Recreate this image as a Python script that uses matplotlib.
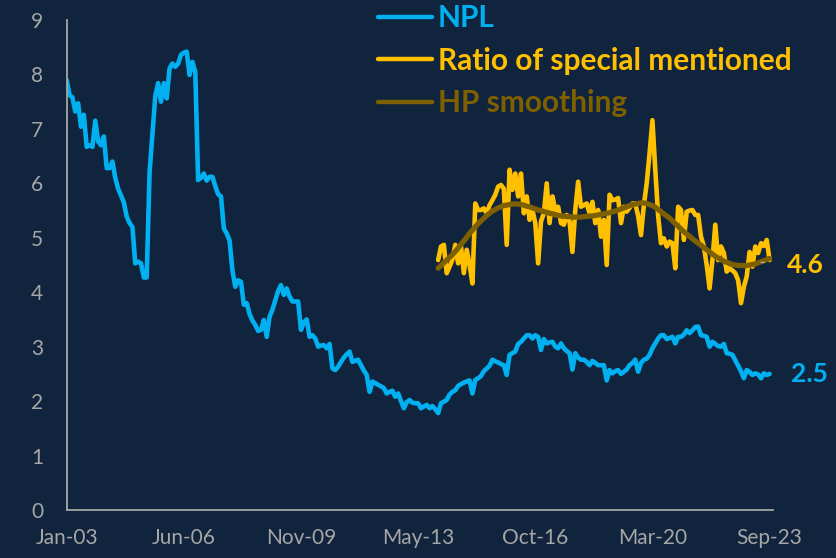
import matplotlib
matplotlib.use("Agg")
import matplotlib.pyplot as plt
import numpy as np

plt.rcParams['font.family'] = ['Lato', 'DejaVu Sans']

# ---- data (monthly, category index) ----
tick_labels = ["Jan-03", "Jun-06", "Nov-09", "May-13", "Oct-16", "Mar-20", "Sep-23"]
tick_index = [0, 41, 82, 123, 164, 205, 246]

npl = [
    7.90, 7.62, 7.58, 7.32, 7.47, 7.04, 7.26, 6.67, 6.70, 6.67,
    7.15, 6.77, 6.70, 6.86, 6.28, 6.28, 6.40, 6.10, 5.90, 5.78,
    5.65, 5.39, 5.27, 5.20, 4.53, 4.56, 4.53, 4.27, 4.27, 6.20,
    6.90, 7.60, 7.84, 7.50, 7.84, 7.56, 8.11, 8.20, 8.14, 8.20,
    8.36, 8.40, 8.42, 7.99, 8.23, 8.05, 6.06, 6.10, 6.18, 6.05,
    6.12, 6.12, 5.95, 5.80, 5.76, 5.17, 5.08, 4.95, 4.40, 4.10,
    4.22, 4.19, 3.77, 3.80, 3.60, 3.48, 3.40, 3.29, 3.31, 3.49,
    3.18, 3.55, 3.68, 3.85, 4.02, 4.13, 3.95, 4.07, 3.92, 3.83,
    3.83, 3.83, 3.31, 3.45, 3.50, 3.18, 3.21, 3.15, 3.00, 3.02,
    3.03, 2.97, 3.05, 2.60, 2.57, 2.63, 2.72, 2.80, 2.86, 2.91,
    2.72, 2.74, 2.76, 2.66, 2.56, 2.48, 2.17, 2.36, 2.33, 2.30,
    2.27, 2.24, 2.14, 2.17, 2.19, 2.08, 2.14, 2.00, 1.87, 1.98,
    2.02, 1.97, 1.96, 1.96, 1.87, 1.90, 1.93, 1.87, 1.91, 1.85,
    1.78, 1.96, 1.99, 2.02, 2.12, 2.17, 2.20, 2.28, 2.31, 2.34,
    2.36, 2.38, 2.14, 2.39, 2.42, 2.46, 2.55, 2.60, 2.65, 2.76,
    2.73, 2.71, 2.68, 2.66, 2.48, 2.85, 2.88, 2.91, 3.05, 3.09,
    3.15, 3.21, 3.21, 3.15, 3.21, 3.18, 2.94, 3.14, 3.06, 3.08,
    3.09, 3.00, 2.97, 3.06, 2.97, 2.92, 2.88, 2.58, 2.88, 2.80,
    2.76, 2.76, 2.72, 2.66, 2.74, 2.70, 2.66, 2.66, 2.66, 2.38,
    2.57, 2.51, 2.55, 2.57, 2.50, 2.54, 2.58, 2.66, 2.70, 2.76,
    2.54, 2.70, 2.76, 2.78, 2.85, 2.97, 3.06, 3.15, 3.21, 3.21,
    3.14, 3.16, 3.18, 3.06, 3.18, 3.18, 3.22, 3.30, 3.25, 3.30,
    3.36, 3.37, 3.21, 3.20, 3.18, 3.00, 3.09, 3.05, 3.01, 3.00,
    3.05, 2.88, 2.87, 2.85, 2.75, 2.65, 2.55, 2.42, 2.57, 2.54,
    2.48, 2.51, 2.49, 2.42, 2.51, 2.48, 2.50,
]

sm_start = 130  # first month index of the special-mention series
special_mentioned = [
    4.59, 4.84, 4.87, 4.35, 4.47, 4.60, 4.87, 4.53, 4.84, 4.35,
    4.78, 4.50, 4.16, 5.63, 5.51, 5.51, 5.54, 5.45, 5.60, 5.69,
    5.79, 5.94, 5.97, 5.90, 4.87, 6.25, 5.88, 6.18, 5.76, 6.18,
    5.45, 5.76, 5.33, 5.51, 5.27, 4.53, 5.30, 5.45, 6.00, 5.27,
    5.76, 5.51, 5.57, 5.27, 5.24, 5.42, 5.30, 4.74, 5.51, 6.03,
    5.57, 5.60, 5.63, 5.45, 5.66, 5.27, 5.51, 5.02, 5.33, 4.50,
    5.79, 5.69, 5.70, 5.73, 5.27, 5.57, 5.48, 5.55, 5.63, 5.63,
    5.40, 5.05, 5.60, 6.00, 6.55, 7.16, 6.25, 5.40, 4.90, 4.99,
    4.84, 4.93, 4.90, 4.44, 5.57, 5.51, 4.96, 5.48, 5.50, 5.51,
    5.42, 5.42, 5.02, 4.84, 4.50, 4.07, 4.59, 5.24, 4.59, 4.84,
    4.72, 4.38, 4.44, 4.40, 4.35, 4.22, 3.80, 4.10, 4.29, 4.74,
    4.47, 4.84, 4.72, 4.90, 4.85, 4.96, 4.59,
]

hp_smoothing = [
    4.44, 4.49, 4.54, 4.59, 4.64, 4.69, 4.75, 4.81, 4.88, 4.94,
    5.01, 5.08, 5.14, 5.20, 5.26, 5.31, 5.36, 5.41, 5.45, 5.49,
    5.52, 5.55, 5.57, 5.59, 5.60, 5.61, 5.62, 5.62, 5.62, 5.61,
    5.60, 5.58, 5.57, 5.55, 5.53, 5.51, 5.50, 5.48, 5.47, 5.45,
    5.44, 5.42, 5.41, 5.40, 5.40, 5.39, 5.39, 5.38, 5.38, 5.38,
    5.38, 5.39, 5.39, 5.40, 5.40, 5.41, 5.42, 5.43, 5.44, 5.45,
    5.46, 5.48, 5.49, 5.51, 5.53, 5.55, 5.57, 5.59, 5.61, 5.62,
    5.63, 5.64, 5.64, 5.63, 5.61, 5.59, 5.56, 5.52, 5.48, 5.44,
    5.40, 5.36, 5.31, 5.26, 5.21, 5.16, 5.11, 5.07, 5.03, 4.98,
    4.94, 4.90, 4.86, 4.82, 4.78, 4.74, 4.70, 4.66, 4.63, 4.60,
    4.57, 4.55, 4.53, 4.51, 4.50, 4.49, 4.49, 4.49, 4.49, 4.50,
    4.51, 4.52, 4.54, 4.56, 4.58, 4.60, 4.62,
]

series_names = ["NPL", "Ratio of special mentioned", "HP smoothing"]
end_labels = ["2.5", "4.6"]

# ---- style ----
BG = "#11243d"
C_NPL = "#00B0F0"
C_SM = "#FFC000"
C_HP = "#7F6000"
GRAY = "#A6A6A6"

W, H = 837, 558
fig = plt.figure(figsize=(W / 100, H / 100), dpi=100, facecolor=BG)
ax = fig.add_axes([66.7 / W, 1 - 510 / H, (773 - 66.7) / W, (510 - 20) / H], facecolor=BG)

x_npl = np.arange(len(npl))
x_sm = np.arange(sm_start, sm_start + len(special_mentioned))
x_hp = np.arange(sm_start, sm_start + len(hp_smoothing))

ax.plot(x_npl, npl, color=C_NPL, lw=3.3, solid_joinstyle="round", solid_capstyle="round", label=series_names[0])
ax.plot(x_sm, special_mentioned, color=C_SM, lw=3.3, solid_joinstyle="round", solid_capstyle="round", label=series_names[1])
ax.plot(x_hp, hp_smoothing, color=C_HP, lw=3.8, solid_capstyle="round", label=series_names[2])

ax.set_xlim(0, 247.2)
ax.set_ylim(0, 9)
ax.set_yticks(range(0, 10))
ax.set_xticks(tick_index)
ax.set_xticklabels(tick_labels)

for s in ["top", "right"]:
    ax.spines[s].set_visible(False)
for s in ["left", "bottom"]:
    ax.spines[s].set_color(GRAY)
    ax.spines[s].set_linewidth(1.3)
ax.tick_params(axis="both", length=0, colors=GRAY, labelsize=15)
ax.tick_params(axis="y", pad=17)
ax.tick_params(axis="x", pad=13)

# end labels
ax.annotate(end_labels[0], xy=(x_npl[-1], npl[-1]), xytext=(40, 0), textcoords="offset pixels",
            color=C_NPL, fontsize=19, fontweight="bold", ha="center", va="center")
ax.annotate(end_labels[1], xy=(x_hp[-1] - 3, hp_smoothing[-1] - 0.07), xytext=(44, -3), textcoords="offset pixels",
            color=C_SM, fontsize=19, fontweight="bold", ha="center", va="center",
            arrowprops=dict(arrowstyle="-", color=GRAY, lw=1.0, shrinkA=14, shrinkB=0))

leg = ax.legend(loc="upper left", bbox_to_anchor=(378 / W, 1 - 4 / H), bbox_transform=fig.transFigure,
                frameon=False, labelcolor="linecolor", prop={"weight": "bold", "size": 21.5},
                handlelength=1.8, handletextpad=0.2, labelspacing=0.49, borderaxespad=0, borderpad=0)
for line in leg.get_lines():
    line.set_linewidth(3.2)
    line.set_solid_capstyle("round")

fig.savefig("out.png", dpi=100, facecolor=BG)
